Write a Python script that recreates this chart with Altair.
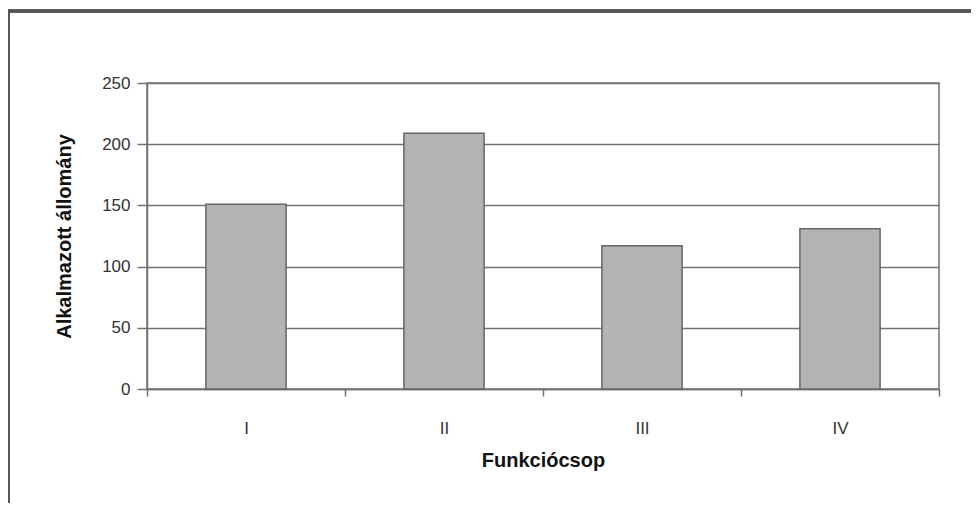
import altair as alt
import pandas as pd

categories = ["I", "II", "III", "IV"]
values = [151, 209, 117, 131]

df = pd.DataFrame({"Funkciócsop": categories, "Alkalmazott állomány": values})

W, H = 792, 306

base = alt.Chart(df)

bars = base.mark_bar(
    width=alt.RelativeBandSize(0.405), color="#b3b3b3", stroke="#666666", strokeWidth=1.5
).encode(
    x=alt.X(
        "Funkciócsop:N",
        sort=categories,
        scale=alt.Scale(paddingInner=0, paddingOuter=0),
        axis=alt.Axis(
            title="Funkciócsop",
            labelAngle=0,
            tickBand="extent",
            tickSize=7,
            tickColor="#737373",
            tickWidth=1.5,
            domainColor="#737373",
            domainWidth=1.5,
            labelPadding=24,
            titlePadding=14,
            grid=False,
        ),
    ),
    y=alt.Y(
        "Alkalmazott állomány:Q",
        scale=alt.Scale(domain=[0, 250]),
        axis=alt.Axis(
            title="Alkalmazott állomány",
            values=[0, 50, 100, 150, 200, 250],
            tickSize=10,
            tickColor="#737373",
            tickWidth=1.5,
            domainColor="#737373",
            domainWidth=1.5,
            gridColor="#737373",
            gridWidth=1.5,
            labelPadding=7,
            titlePadding=27,
        ),
    ),
)

frame_top = base.mark_rule(color="#555555", strokeWidth=3, clip=False).encode(
    x=alt.value(-139), x2=alt.value(W + 40), y=alt.value(-72)
)
frame_left = base.mark_rule(color="#555555", strokeWidth=3, clip=False).encode(
    x=alt.value(-139), y=alt.value(-72), y2=alt.value(H + 120)
)

chart = (
    alt.layer(bars, frame_top, frame_left)
    .properties(
        width=W,
        height=H,
        autosize=alt.AutoSizeParams(type="none"),
        padding={"left": 139, "top": 75, "right": 32, "bottom": 114},
    )
    .configure_view(stroke="#737373", strokeWidth=1.5)
    .configure_axis(
        labelFont="Liberation Sans",
        titleFont="Liberation Sans",
        labelFontSize=17,
        titleFontSize=20,
        labelColor="#333333",
        titleColor="#111111",
        titleFontWeight="bold",
    )
)

chart.save("out.html", embed_options={"renderer": "svg", "actions": False})
